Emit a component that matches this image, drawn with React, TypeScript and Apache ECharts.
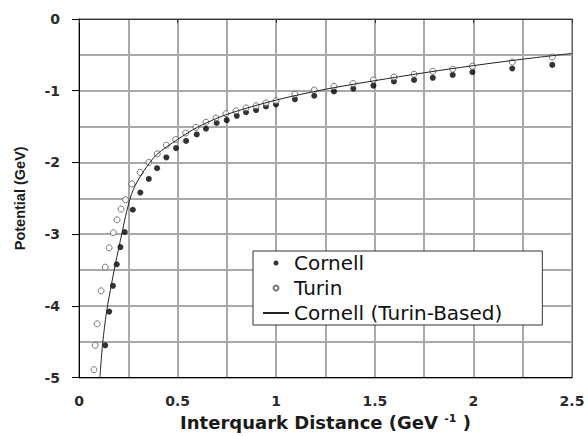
import React, { useEffect, useRef } from "react";
import * as echarts from "echarts";

// Interquark distance (GeV^-1) and potential (GeV)
const cornellX = [0.133, 0.153, 0.172, 0.191, 0.21, 0.232, 0.273, 0.311, 0.354, 0.396, 0.443, 0.492, 0.543, 0.597, 0.644, 0.698, 0.749, 0.8, 0.847, 0.898, 0.948, 0.999, 1.095, 1.193, 1.293, 1.391, 1.493, 1.597, 1.699, 1.794, 1.895, 1.995, 2.197, 2.4];
const cornellV = [-4.55, -4.08, -3.72, -3.42, -3.18, -2.97, -2.66, -2.42, -2.23, -2.08, -1.93, -1.8, -1.7, -1.61, -1.53, -1.45, -1.41, -1.35, -1.3, -1.27, -1.22, -1.19, -1.12, -1.07, -1.01, -0.97, -0.93, -0.87, -0.85, -0.82, -0.78, -0.74, -0.69, -0.64];

const turinX = [0.076, 0.082, 0.092, 0.112, 0.133, 0.153, 0.174, 0.193, 0.213, 0.236, 0.268, 0.31, 0.354, 0.397, 0.443, 0.49, 0.541, 0.593, 0.644, 0.695, 0.745, 0.796, 0.847, 0.898, 0.948, 0.999, 1.095, 1.193, 1.293, 1.39, 1.493, 1.597, 1.699, 1.794, 1.895, 1.995, 2.197, 2.4];
const turinV = [-4.89, -4.55, -4.25, -3.79, -3.46, -3.19, -2.98, -2.8, -2.65, -2.52, -2.3, -2.14, -2.0, -1.88, -1.76, -1.68, -1.59, -1.51, -1.44, -1.38, -1.32, -1.28, -1.24, -1.21, -1.17, -1.14, -1.05, -0.99, -0.94, -0.9, -0.85, -0.81, -0.77, -0.73, -0.7, -0.66, -0.6, -0.53];

const fitX = [0.106, 0.12, 0.14, 0.166, 0.191, 0.216, 0.242, 0.275, 0.326, 0.394, 0.5, 0.6, 0.75, 1.0, 1.25, 1.5, 1.75, 2.0, 2.25, 2.5];
const fitV = [-5.0, -4.52, -4.08, -3.68, -3.33, -3.01, -2.68, -2.38, -2.13, -1.89, -1.68, -1.51, -1.33, -1.13, -0.98, -0.86, -0.75, -0.65, -0.56, -0.48];

const xTickLabels = ["0", "0.5", "1", "1.5", "2", "2.5"];
const yTickLabels = ["-5", "-4", "-3", "-2", "-1", "0"];
const seriesNames = ["Cornell", "Turin", "Cornell (Turin-Based)"];

const gridColor = "#a9a9a9";

export default function App() {
  const ref = useRef<HTMLDivElement>(null);
  useEffect(() => {
    if (!ref.current) return;
    const chart = echarts.init(ref.current, undefined, { renderer: "svg" });
    const tickFont = {
      fontFamily: "DejaVu Sans",
      fontWeight: "bold" as const,
      fontSize: 14,
      color: "#2a2a2a",
    };
    chart.setOption({
      animation: false,
      backgroundColor: "#fff",
      grid: { left: 79, top: 19, right: 16, bottom: 58, containLabel: false },
      legend: {
        orient: "vertical",
        left: 253,
        top: 251,
        padding: [2, 40, 2, 9],
        itemGap: 5,
        itemWidth: 26,
        itemHeight: 5,
        borderColor: "#333",
        borderWidth: 1,
        borderRadius: 0,
        backgroundColor: "#fff",
        textStyle: { fontFamily: "DejaVu Sans", fontSize: 20, lineHeight: 20, color: "#111" },
        data: seriesNames,
      },
      xAxis: [
        {
          type: "value",
          min: 0,
          max: 2.5,
          interval: 0.5,
          position: "bottom",
          axisLine: { show: true, onZero: false, lineStyle: { color: "#000", width: 1 } },
          axisTick: { show: false },
          axisLabel: {
            ...tickFont,
            margin: 16,
            formatter: (v: number) => xTickLabels[Math.round(v / 0.5)] ?? "",
          },
          splitLine: { show: true, lineStyle: { color: gridColor, width: 2 } },
          minorTick: { show: false, splitNumber: 2 },
          minorSplitLine: { show: true, lineStyle: { color: gridColor, width: 2 } },
          name: "Interquark Distance (GeV {sup|-1} )",
          nameLocation: "middle",
          nameGap: 34,
          nameTextStyle: {
            fontFamily: "DejaVu Sans",
            fontWeight: "bold",
            fontSize: 18,
            color: "#1a1a1a",
            rich: {
              sup: {
                fontFamily: "DejaVu Sans",
                fontWeight: "bold",
                fontSize: 11,
                color: "#1a1a1a",
                verticalAlign: "top",
                padding: [0, 0, 8, 0],
              },
            },
          },
        },
        {
          type: "value",
          min: 0,
          max: 2.5,
          interval: 0.5,
          position: "top",
          axisLine: { show: true, onZero: false, lineStyle: { color: "#333", width: 1 } },
          axisTick: { show: true, inside: true, length: 4, lineStyle: { color: "#333" } },
          axisLabel: { show: false },
          splitLine: { show: false },
        },
      ],
      yAxis: [
        {
          type: "value",
          min: -5,
          max: 0,
          interval: 1,
          axisLine: { show: true, onZero: false, lineStyle: { color: "#000", width: 1 } },
          axisTick: { show: true, length: 7, lineStyle: { color: "#000" } },
          axisLabel: {
            ...tickFont,
            margin: 19,
            formatter: (v: number) => yTickLabels[Math.round(v + 5)] ?? "",
          },
          splitLine: { show: true, lineStyle: { color: gridColor, width: 2 } },
          minorTick: { show: false, splitNumber: 2 },
          minorSplitLine: { show: true, lineStyle: { color: gridColor, width: 2 } },
          name: "Potential (GeV)",
          nameLocation: "middle",
          nameGap: 52,
          nameTextStyle: {
            fontFamily: "Liberation Sans",
            fontWeight: "bold",
            fontSize: 14.5,
            color: "#1a1a1a",
          },
        },
        {
          type: "value",
          min: -5,
          max: 0,
          interval: 1,
          position: "right",
          axisLine: { show: true, onZero: false, lineStyle: { color: "#666", width: 1 } },
          axisTick: { show: false },
          axisLabel: { show: false },
          splitLine: { show: false },
        },
      ],
      series: [
        {
          name: seriesNames[0],
          type: "scatter",
          symbol: "circle",
          symbolSize: 6,
          itemStyle: { color: "#000" },
          data: cornellX.map((x, i) => [x, cornellV[i]]),
          z: 3,
        },
        {
          name: seriesNames[1],
          type: "scatter",
          symbol: "circle",
          symbolSize: 6,
          itemStyle: { color: "#fff", borderColor: "#555", borderWidth: 1 },
          data: turinX.map((x, i) => [x, turinV[i]]),
          z: 3,
        },
        {
          name: seriesNames[2],
          type: "line",
          symbol: "none",
          smooth: 0.3,
          itemStyle: { color: "rgba(0,0,0,0)" },
          lineStyle: { color: "#222", width: 1 },
          data: fitX.map((x, i) => [x, fitV[i]]),
          z: 4,
        },
      ],
    });
    return () => chart.dispose();
  }, []);
  return (
    <div
      ref={ref}
      style={{ position: "fixed", left: 0, top: 0, width: 588, height: 436 }}
    />
  );
}
